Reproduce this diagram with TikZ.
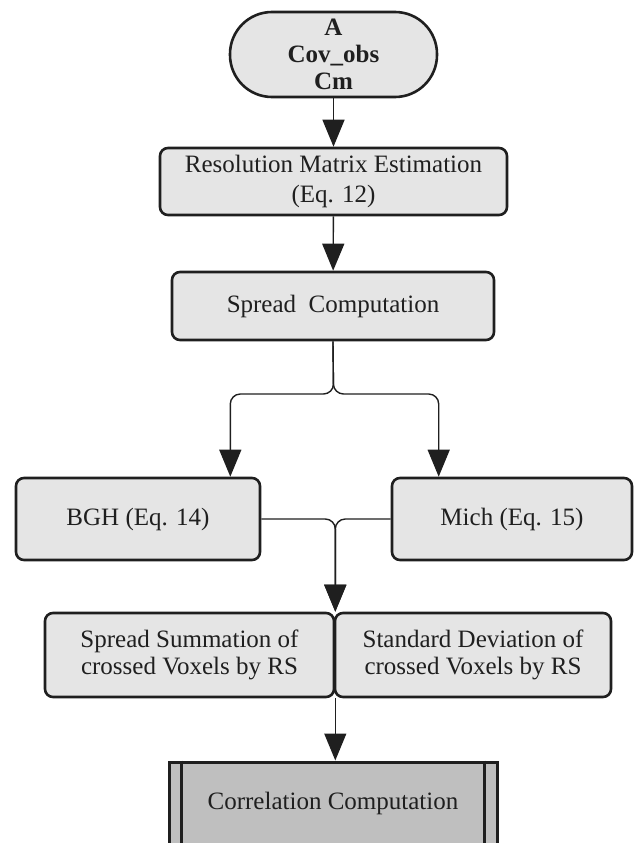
\documentclass[tikz,border=0pt]{standalone}
\usepackage{fontspec}
\setmainfont{Liberation Serif}
\newfontfamily\timesfont{Liberation Serif}
\usetikzlibrary{arrows.meta}
\colorlet{boxgray}{gray!20}
\colorlet{corrgray}{gray!50}
\colorlet{inkgray}{black!88}

\begin{document}
\begin{tikzpicture}[x=1pt,y=-1pt,
        box/.style={draw=inkgray, line width=2.6pt, fill=boxgray, rounded corners=8pt,
            align=center, text=inkgray, inner sep=0pt, font=\timesfont\fontsize{25}{30}\selectfont},
        conn/.style={draw=inkgray, line width=1.4pt, rounded corners=10pt},
        arr/.style={conn, -{Triangle[length=27pt,width=22pt]}}]
    \useasboundingbox (0,0) rectangle (634,843);
    % boxes
    \node[box, minimum width=207pt, minimum height=85pt, rounded corners=42pt,
        font=\timesfont\bfseries\fontsize{25}{27}\selectfont] (start) at (333.5,54.5)
        {A\\Cov\_obs\\Cm};
    \node[box, minimum width=347pt, minimum height=67pt] (reso) at (333.5,181.5)
        {Resolution Matrix Estimation\\(Eq. 12)};
    \node[box, minimum width=322pt, minimum height=68pt] (spread) at (333,306)
        {Spread~ Computation};
    \node[box, minimum width=244pt, minimum height=82pt] (bgh) at (138,519) {BGH (Eq. 14)};
    \node[box, minimum width=240pt, minimum height=82pt] (mich) at (512,519) {Mich (Eq. 15)};
    \node[box, minimum width=289pt, minimum height=84pt, font=\timesfont\fontsize{25}{27}\selectfont]
        (sum) at (189.5,655) {Spread Summation of\\crossed Voxels by RS};
    \node[box, minimum width=276pt, minimum height=84pt, font=\timesfont\fontsize{25}{27}\selectfont]
        (dev) at (473,655) {Standard Deviation of\\crossed Voxels by RS};
    \node[box, fill=corrgray, rounded corners=0pt, line width=3pt,
        minimum width=328pt, minimum height=88pt] (corr) at (333,806) {};
    \foreach \side/\dx in {west/14,east/-14}{
        \draw[inkgray, line width=3pt] ([xshift=\dx pt]corr.north \side) -- ([xshift=\dx pt]corr.south \side);
    }
    \node[text=inkgray, font=\timesfont\fontsize{25}{30}\selectfont, anchor=center] (corrtxt) at (333,803)
        {Correlation Computation};
    % connectors
    \coordinate (split) at (333.5,394);
    \coordinate (join) at (sum.north east);
    \draw[arr] (start) -- (reso);
    \draw[arr] (reso) -- (spread);
    \draw[arr] (spread.south) -- (split) -| ([xshift=-31pt]bgh.north east);
    \draw[arr] (spread.south) -- (split) -| ([xshift=48pt]mich.north west);
    \draw[arr] (bgh.east) -| (join);
    \draw[arr] (mich.west) -| (join);
    \draw[arr] (sum.south east) -- (sum.south east |- corr.north);
\end{tikzpicture}
\end{document}
